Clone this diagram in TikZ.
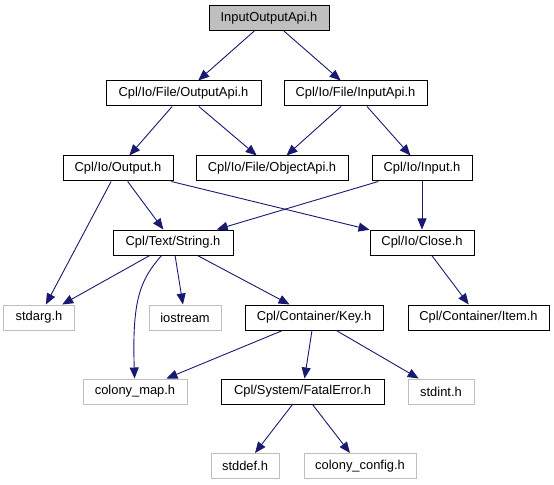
\documentclass[tikz,border=0pt]{standalone}
\usepackage{fontspec}
\setmainfont{Liberation Sans}
\usetikzlibrary{arrows.meta}
\definecolor{edgeblue}{RGB}{25,25,112}
\definecolor{boxgray}{RGB}{191,191,191}
\begin{document}
\begin{tikzpicture}[
  x=1bp, y=-1bp,
  every node/.style={inner sep=0pt, font=\fontsize{12.9bp}{15bp}\selectfont},
  doc/.style={draw=black, line width=1bp, minimum height=25bp, inner sep=0pt},
  ext/.style={draw=boxgray, line width=1bp, minimum height=25bp, inner sep=0pt},
  root/.style={doc, fill=boxgray},
  arrow/.style={draw=edgeblue, line width=0.9bp, -{Triangle[length=11bp,width=9bp]}}]

  \useasboundingbox (0,0) rectangle (554,485);

  % ---- objects ------------------------------------------------------------
  \node[root, minimum width=120bp] (IOApi)  at (269,18)    {InputOutputApi.h};
  \node[doc,  minimum width=155bp] (OutApi) at (183.5,93.5) {Cpl/Io/File/OutputApi.h};
  \node[doc,  minimum width=143bp] (InApi)  at (355.5,93.5) {Cpl/Io/File/InputApi.h};
  \node[doc,  minimum width=110bp] (Out)    at (118,168.5)  {Cpl/Io/Output.h};
  \node[doc,  minimum width=152bp] (ObjApi) at (272,168.5)  {Cpl/Io/File/ObjectApi.h};
  \node[doc,  minimum width=100bp] (In)     at (422,168.5)  {Cpl/Io/Input.h};
  \node[doc,  minimum width=120bp] (Str)    at (173,242.5)  {Cpl/Text/String.h};
  \node[doc,  minimum width=104bp] (Close)  at (422,242.5)  {Cpl/Io/Close.h};
  \node[ext,  minimum width=70bp]  (stdarg) at (39,317.5)   {stdarg.h};
  \node[ext,  minimum width=72bp]  (iostr)  at (185,317.5)  {iostream};
  \node[doc,  minimum width=138bp] (Key)    at (314,317.5)  {Cpl/Container/Key.h};
  \node[doc,  minimum width=141bp] (Item)   at (478.5,317.5) {Cpl/Container/Item.h};
  \node[ext,  minimum width=104bp] (cmap)   at (135,391.5)  {colony\_map.h};
  \node[doc,  minimum width=163bp] (Fatal)  at (302.5,391.5) {Cpl/System/FatalError.h};
  \node[ext,  minimum width=66bp]  (stdint) at (441,391.5)  {stdint.h};
  \node[ext,  minimum width=68bp]  (stddef) at (245,466)    {stddef.h};
  \node[ext,  minimum width=112bp] (cfg)    at (360,466)    {colony\_config.h};

  % ---- arrows -------------------------------------------------------------
  \draw[arrow] (IOApi)  -- (OutApi);
  \draw[arrow] (IOApi)  -- (InApi);
  \draw[arrow] (OutApi) -- (Out);
  \draw[arrow] (OutApi) -- (ObjApi);
  \draw[arrow] (InApi)  -- (ObjApi);
  \draw[arrow] (InApi)  -- (In);
  \draw[arrow] (Out)    -- (stdarg);
  \draw[arrow] (Out)    -- (Str);
  \draw[arrow] (Out)    -- (Close);
  \draw[arrow] (In)     -- (Str);
  \draw[arrow] (In)     -- (Close);
  \draw[arrow] (Str)    -- (stdarg);
  \draw[arrow] (Str) .. controls (140,280) and (132,300) .. (cmap);
  \draw[arrow] (Str)    -- (iostr);
  \draw[arrow] (Str)    -- (Key);
  \draw[arrow] (Close)  -- (Item);
  \draw[arrow] (Key)    -- (cmap);
  \draw[arrow] (Key)    -- (Fatal);
  \draw[arrow] (Key)    -- (stdint);
  \draw[arrow] (Fatal)  -- (stddef);
  \draw[arrow] (Fatal)  -- (cfg);
\end{tikzpicture}
\end{document}
